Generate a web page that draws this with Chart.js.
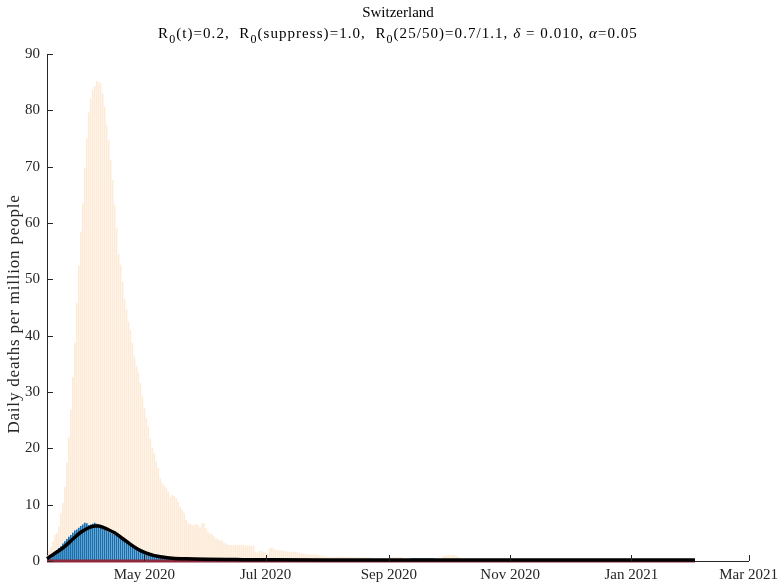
<!DOCTYPE html>
<html>
<head>
<meta charset="utf-8">
<script src="https://cdn.jsdelivr.net/npm/chart.js@4/dist/chart.umd.min.js"></script>
<style>
  html, body { margin: 0; padding: 0; background: #fff; overflow: hidden; }
  #wrap { position: relative; width: 783px; height: 583px; font-family: 'Liberation Serif', 'Times New Roman', serif; }
  #chart { position: absolute; left: 0; top: 0; }
  #title {
    position: absolute; top: 2px; left: 0; width: 796px;
    text-align: center; font-size: 15px; line-height: 21px; color: #000; white-space: pre;
  }
  #title .l2 { letter-spacing: 1.05px; }
  #title sub { font-size: 12px; line-height: 0; vertical-align: -5px; }
  #ylabel {
    position: absolute; left: -186px; top: 304px; width: 400px; height: 20px;
    line-height: 20px; text-align: center; font-size: 17px; letter-spacing: 0.8px;
    color: #262626; transform: rotate(-90deg); transform-origin: 200px 10px; white-space: nowrap;
  }
</style>
</head>
<body>
<div id="wrap">
  <canvas id="chart" width="783" height="583"></canvas>
  <div id="title">Switzerland<br><span class="l2">R<sub>0</sub>(t)=0.2,  R<sub>0</sub>(suppress)=1.0,  R<sub>0</sub>(25/50)=0.7/1.1, <i>δ</i> = 0.010, <i>α</i>=0.05</span></div>
  <div id="ylabel">Daily deaths per million people</div>
</div>
<script>
// day 0 = 13 Mar 2020
const tickDays = [49, 110, 172, 233, 294, 353];
const tickLabels = ['May 2020', 'Jul 2020', 'Sep 2020', 'Nov 2020', 'Jan 2021', 'Mar 2021'];

// light bars: daily deaths per million (one value per day from day 0)
const orangeVals = [
  1.0, 1.8, 2.5, 3.5, 4.6, 5.0, 6.1, 8.5, 10.3, 13.2,
  17.4, 22.0, 26.8, 32.7, 38.7, 45.8, 52.4, 58.5, 63.5, 69.8,
  75.0, 79.6, 82.1, 83.6, 84.3, 85.2, 85.0, 84.8, 83.0, 80.6,
  77.4, 74.7, 71.2, 67.6, 63.2, 59.1, 54.5, 52.6, 49.6, 46.5,
  44.6, 42.5, 41.0, 38.7, 36.3, 34.6, 33.4, 31.6, 29.2, 27.2,
  25.4, 23.8, 21.8, 20.1, 19.2, 17.6, 16.5, 14.7, 13.8, 13.3,
  13.0, 12.3, 11.4, 11.7, 11.5, 11.2, 10.5, 9.6, 9.1, 8.5,
  7.3, 6.7, 6.6, 6.4, 6.3, 6.6, 6.4, 6.0, 6.7, 6.7,
  5.8, 5.2, 4.9, 4.85, 4.4, 3.9, 3.85, 3.6, 3.7, 3.25,
  3.1, 2.85, 2.85, 2.8, 2.8, 2.8, 2.8, 2.85, 2.9, 2.85,
  2.75, 2.75, 2.75, 2.7, 2.7, 1.65, 1.5, 1.8, 1.8, 1.6,
  1.5, 1.25, 2.25, 2.4, 2.2, 1.95, 1.95, 1.9, 1.9, 1.9,
  1.7, 1.7, 1.65, 1.65, 1.65, 1.65, 1.6, 1.4, 1.4, 1.25,
  1.25, 1.25, 1.15, 1.15, 1.1, 1.1, 1.1, 0.95, 0.95, 0.95,
  0.8, 0.7, 0.7, 0.7, 0.7, 0.7, 0.75, 0.75, 0.75, 0.75,
  0.75, 0.7, 0.7, 0.7, 0.7, 0.7, 0.7, 0.65, 0.65, 0.65,
  0.6, 0.6, 0.6, 0.6, 0.5, 0.5, 0.5, 0.5, 0.5, 0.5,
  0.5, 0.3, 0.3, 0.7, 0.7, 0.7, 0.7, 0.7, 0.7, 0.25,
  0.25, 0.25, 0.25, 0.25, 0.25, 0.25, 0.25, 0.25, 0.25, 0.25,
  0.25, 0.25, 0.25, 0.25, 0.25, 0.25, 0.25, 0.25, 0.25, 0.9,
  0.9, 1.0, 1.0, 1.0, 1.1, 1.1, 0.9, 0.8
];

// blue bars
const blueVals = [
  0.4, 0.6, 0.9, 1.2, 1.6, 1.9, 2.3, 2.6, 3.1, 3.5,
  3.9, 4.3, 4.6, 5.0, 5.4, 5.6, 5.9, 6.2, 6.5, 6.8,
  6.7, 6.4, 6.5, 6.6, 6.8, 6.6, 6.3, 6.1, 5.8, 5.6,
  5.4, 5.2, 5.0, 4.8, 4.6, 4.5, 4.3, 4.1, 3.9, 3.6,
  3.4, 3.1, 2.9, 2.7, 2.4, 2.2, 2.0, 1.8, 1.6, 1.4,
  1.3, 1.2, 1.1, 1.0, 0.85, 0.8, 0.7, 0.7, 0.65, 0.6,
  0.6, 0.55, 0.5, 0.5, 0.45, 0.4, 0.4, 0.35, 0.3, 0.3,
  0.3, 0.3, 0.3, 0.3, 0.3, 0.3, 0.3, 0.3, 0.3, 0.3,
  0.3, 0.25, 0.3, 0.3, 0.35, 0.35, 0.35, 0.35, 0.35, 0.35,
  0.35, 0.35, 0.35, 0.35, 0.35, 0.35, 0.35, 0.35, 0.35, 0.35,
  0.25, 0.2, 0.2, 0.2, 0.2, 0.2, 0.2, 0.2, 0.2, 0.2,
  0.2, 0.2, 0.2, 0.2, 0.2, 0.2, 0.2, 0.2, 0.2, 0.2,
  0.2, 0.2, 0.2, 0.2, 0.2, 0.2, 0.2, 0.2, 0.2, 0.2,
  0.2, 0.2, 0.2, 0.2, 0.2, 0.2, 0.2, 0.2, 0.2, 0.2,
  0.2, 0.2, 0.2, 0.2, 0.2, 0.2, 0.2, 0.2, 0.2, 0.2,
  0.2, 0.2, 0.2, 0.2, 0.2, 0.2, 0.2, 0.2, 0.2, 0.2,
  0.2, 0.2, 0.2, 0.2, 0.2, 0.2, 0.2, 0.2, 0.2, 0.2,
  0.2, 0.2, 0.2, 0.2, 0.2, 0.2, 0.2, 0.2, 0.2, 0.2,
  0.3, 0.3, 0.3, 0.4, 0.5, 0.5, 0.5, 0.5, 0.5, 0.5,
  0.5, 0.5, 0.5, 0.5, 0.45, 0.4, 0.35, 0.35, 0.35, 0.35,
  0.35, 0.35, 0.35, 0.35, 0.35, 0.35, 0.35, 0.35
];

// model fit (black line)
const modelDays = [0, 2, 5, 9, 13, 17, 21, 24, 26, 28, 30, 34, 38, 42, 46, 50, 54, 58, 63, 70, 80, 95, 113, 140, 200, 260, 326];
const modelVals = [0.4, 0.9, 1.6, 2.6, 3.9, 5.1, 5.9, 6.2, 6.2, 6.0, 5.7, 5.0, 4.0, 2.95, 2.05, 1.4, 0.95, 0.7, 0.5, 0.38, 0.3, 0.25, 0.2, 0.18, 0.18, 0.18, 0.18];

// suppressed scenario (red line, near zero)
const suppressDays = [0, 100, 200, 326];
const suppressVals = [0, 0, 0, 0];

const toPoints = (xs, ys) => ys.map((v, i) => ({ x: xs[i], y: v }));
const daily = vals => vals.map((v, i) => ({ x: i, y: v }));

const inwardTicks = {
  id: 'inwardTicks',
  afterDraw(chart) {
    const { ctx, chartArea, scales } = chart;
    ctx.save();
    ctx.strokeStyle = '#262626';
    ctx.lineWidth = 1;
    ctx.beginPath();
    scales.y.ticks.forEach(t => {
      const y = Math.round(scales.y.getPixelForValue(t.value)) + 0.5;
      ctx.moveTo(chartArea.left, y);
      ctx.lineTo(chartArea.left + 6, y);
    });
    scales.x.ticks.forEach(t => {
      const x = Math.round(scales.x.getPixelForValue(t.value)) + 0.5;
      ctx.moveTo(x, chartArea.bottom);
      ctx.lineTo(x, chartArea.bottom - 6);
    });
    ctx.stroke();
    ctx.restore();
  }
};

const serif = "'Liberation Serif', 'Times New Roman', serif";

new Chart(document.getElementById('chart').getContext('2d'), {
  type: 'bar',
  data: {
    datasets: [
      {
        type: 'line',
        data: toPoints(modelDays, modelVals),
        borderColor: '#000',
        borderWidth: 3.5,
        pointRadius: 0,
        cubicInterpolationMode: 'monotone',
        clip: false,
        order: 1
      },
      {
        type: 'line',
        data: toPoints(suppressDays, suppressVals),
        borderColor: '#8e2a3e',
        borderWidth: 3,
        pointRadius: 0,
        clip: false,
        order: 2
      },
      {
        data: daily(blueVals),
        backgroundColor: '#1271b6',
        barPercentage: 0.85,
        categoryPercentage: 1,
        grouped: false,
        order: 3
      },
      {
        data: daily(orangeVals),
        backgroundColor: '#fdebd8',
        barPercentage: 0.85,
        categoryPercentage: 1,
        grouped: false,
        order: 4
      }
    ]
  },
  options: {
    responsive: false,
    animation: false,
    devicePixelRatio: 1,
    layout: { padding: { top: 54, right: 29, left: 0, bottom: 0 } },
    plugins: {
      legend: { display: false },
      tooltip: { enabled: false }
    },
    scales: {
      x: {
        type: 'linear',
        min: 0,
        max: 353,
        offset: false,
        grid: { drawOnChartArea: false, drawTicks: false },
        border: { display: true, color: '#262626', width: 1 },
        afterBuildTicks: scale => { scale.ticks = tickDays.map(v => ({ value: v })); },
        afterFit: scale => { scale.height = 22; },
        ticks: {
          autoSkip: false,
          maxRotation: 0,
          padding: 5,
          color: '#262626',
          font: { family: serif, size: 15 },
          callback: v => tickLabels[tickDays.indexOf(v)]
        }
      },
      y: {
        min: 0,
        max: 90,
        grid: { drawOnChartArea: false, drawTicks: false },
        border: { display: true, color: '#262626', width: 1 },
        afterFit: scale => { scale.width = 47; },
        ticks: {
          stepSize: 10,
          padding: 7,
          color: '#262626',
          font: { family: serif, size: 15 }
        }
      }
    }
  },
  plugins: [inwardTicks]
});
</script>
</body>
</html>
